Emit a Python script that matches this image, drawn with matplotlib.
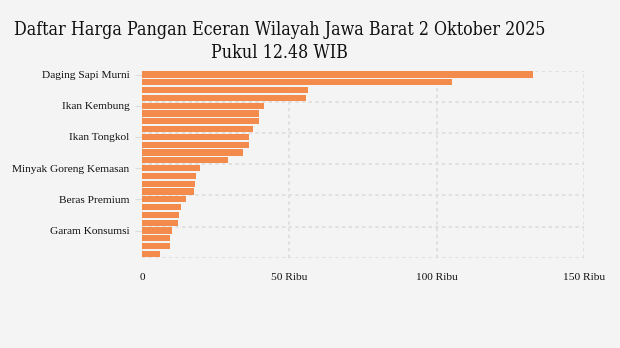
import numpy as np
import matplotlib.pyplot as plt
from matplotlib.ticker import FixedLocator, FuncFormatter

# price per item (Rupiah), sorted high to low
labels = ['Daging Sapi Murni', '', '', '',
          'Ikan Kembung', '', '', '',
          'Ikan Tongkol', '', '', '',
          'Minyak Goreng Kemasan', '', '', '',
          'Beras Premium', '', '', '',
          'Garam Konsumsi', '', '', '']
prices = [132700, 105200, 56300, 55600,
          41400, 39700, 39700, 37700,
          36300, 36300, 34300, 29200,
          19700, 18300, 18000, 17600,
          14900, 13200, 12600, 12200,
          10200, 9500, 9500, 6100]
x_ticks = [0, 50000, 100000, 150000]

bg = '#f4f4f4'
bar_color = '#f38b4d'
grid_color = '#dddddd'

fig = plt.figure(figsize=(6.2, 3.48), dpi=100, facecolor=bg)
ax = fig.add_axes([0.229, 0.259, 0.713, 0.538], facecolor=bg)

pos = np.arange(len(prices))
ax.barh(pos, prices, height=0.8, color=bar_color, zorder=3)

ax.set_ylim(len(prices) - 0.5, -0.5)
ax.set_xlim(0, 150000)

# labelled categories only every 4th bar
shown = [i for i, l in enumerate(labels) if l]
ax.set_yticks(shown)
ax.set_yticklabels([labels[i] for i in shown], family='Liberation Serif', fontsize=8.2,
                   color='#111111')
ax.yaxis.set_minor_locator(FixedLocator(np.arange(-0.5, len(prices), 4)))
ax.tick_params(axis='y', which='major', length=5, color=grid_color, pad=4)
ax.tick_params(axis='y', which='minor', length=0)

ax.set_xticks(x_ticks)
ax.xaxis.set_major_formatter(FuncFormatter(lambda v, p: '0' if v == 0 else f'{int(v / 1000)} Ribu'))
ax.tick_params(axis='x', length=0, pad=11)
for t in ax.get_xticklabels():
    t.set_family('Liberation Serif')
    t.set_fontsize(8.2)
    t.set_color('#111111')

ax.grid(axis='x', which='major', color=grid_color, linestyle=(0, (2, 2)), linewidth=1.2, zorder=0)
ax.grid(axis='y', which='minor', color=grid_color, linestyle=(0, (2, 2)), linewidth=1.2, zorder=0)
ax.grid(axis='y', which='major', visible=False)
for s in ax.spines.values():
    s.set_visible(False)

title_kw = dict(ha='center', va='center', family='DejaVu Serif', fontstretch='condensed',
                fontsize=12.8, color='#111111')
fig.text(0.451, 0.913, 'Daftar Harga Pangan Eceran Wilayah Jawa Barat 2 Oktober 2025', **title_kw)
fig.text(0.451, 0.847, 'Pukul 12.48 WIB', **title_kw)

fig.savefig('out.png', dpi=100, facecolor=bg)
